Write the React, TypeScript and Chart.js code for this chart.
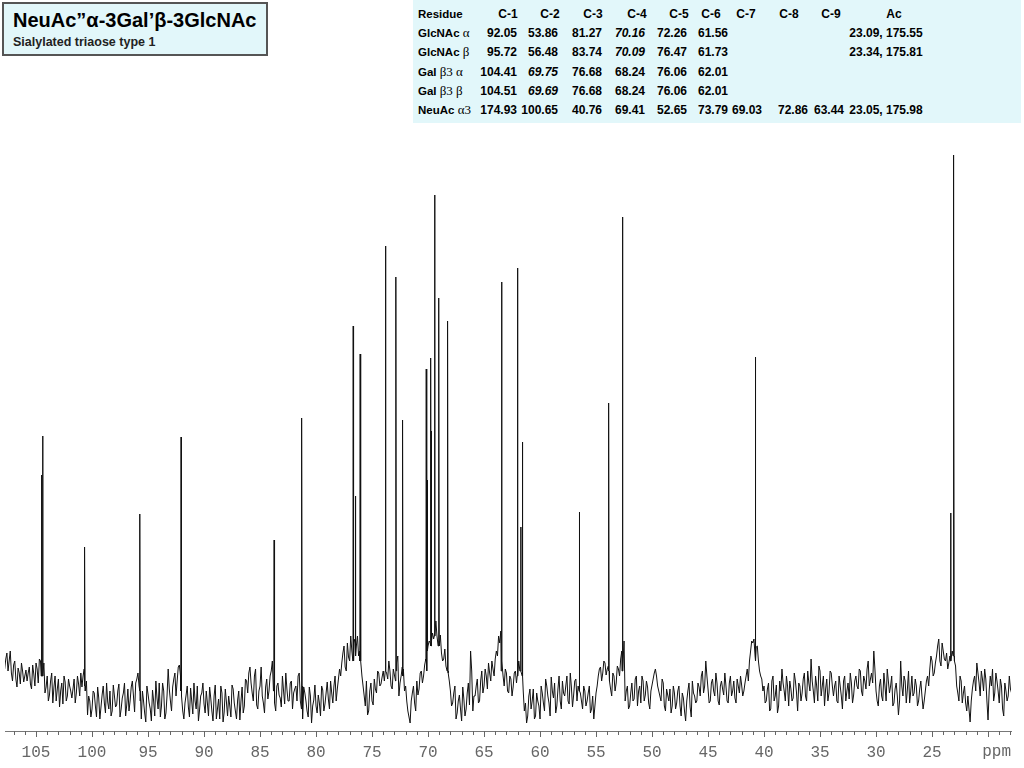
import React, { useEffect, useRef } from "react";
import { Chart, registerables } from "chart.js";

Chart.register(...registerables);

// ---------- data ----------
const X_MIN = 17.95;
const X_MAX = 107.77;
const MAJOR_TICKS = [105, 100, 95, 90, 85, 80, 75, 70, 65, 60, 55, 50, 45, 40, 35, 30, 25];
const MINOR_TICK_FIRST = 18;
const MINOR_TICK_LAST = 107;
const UNIT_LABEL = "ppm";

// baseline/noise trace: heights at 107.8, 107.6, ... (step 0.2)
const TRACE_START = 107.8;
const TRACE_STEP = 0.2;
const traceHeights = [
  62, 78, 70, 58, 66, 52, 63, 47, 60, 55,
  50, 64, 42, 57, 68, 48, 70, 60, 38, 55,
  36, 58, 44, 30, 52, 40, 27, 49, 35, 45,
  33, 52, 38, 47, 58, 55, 40, 16, 30, 22,
  38, 14, 33, 24, 45, 18, 29, 40, 20, 35,
  26, 47, 22, 38, 15, 42, 30, 50, 19, 52,
  45, 12, 30, 9, 37, 22, 41, 15, 33, 48,
  25, 40, 18, 62, 30, 44, 58, 50, 66, 35,
  12, 36, 24, 43, 17, 30, 45, 21, 38, 27,
  40, 15, 33, 10, 46, 22, 12, 38, 19, 29,
  35, 14, 42, 20, 31, 11, 44, 25, 50, 58,
  48, 30, 62, 22, 45, 35, 18, 52, 40, 60,
  40, 20, 48, 33, 55, 27, 42, 30, 50, 38,
  45, 55, 30, 12, 38, 20, 44, 8, 31, 25,
  36, 15, 41, 27, 49, 22, 38, 45, 30, 52,
  55, 78, 64, 88, 70, 80, 92, 85, 75, 70,
  45, 25, 16, 40, 30, 52, 38, 58, 47, 60,
  65, 52, 60, 42, 56, 68, 35, 55, 62, 45,
  20, 8, 38, 28, 50, 42, 60, 55, 72, 85,
  88, 98, 105, 95, 90, 78, 72, 65, 58, 40,
  28, 45, 18, 36, 10, 32, 22, 48, 80, 20,
  35, 52, 30, 60, 45, 55, 68, 50, 62, 72,
  75, 88, 70, 45, 58, 38, 52, 44, 60, 65,
  60, 55, 20, 8, 35, 22, 42, 15, 30, 12,
  38, 20, 45, 28, 54, 33, 18, 42, 30, 50,
  35, 55, 27, 44, 36, 52, 45, 38, 22, 40,
  30, 45, 22, 12, 38, 55, 64, 58, 68, 62,
  50, 35, 55, 48, 62, 72, 60, 30, 45, 25,
  48, 32, 55, 40, 28, 50, 36, 44, 22, 46,
  58, 55, 40, 30, 48, 20, 36, 42, 25, 38,
  28, 45, 15, 33, 10, 40, 24, 50, 35, 30,
  44, 55, 38, 70, 42, 30, 52, 35, 48, 26,
  50, 36, 45, 28, 55, 40, 33, 52, 38, 46,
  40, 55, 50, 80, 88, 75, 85, 60, 52, 45,
  30, 48, 22, 55, 35, 18, 50, 62, 40, 55,
  25, 42, 33, 50, 20, 45, 38, 58, 30, 48,
  72, 40, 55, 30, 60, 45, 25, 52, 38, 58,
  35, 50, 28, 45, 22, 55, 40, 32, 48, 36,
  55, 42, 60, 35, 50, 62, 45, 58, 80, 40,
  25, 52, 30, 45, 62, 38, 55, 28, 48, 16,
  70, 35, 50, 42, 28, 55, 38, 45, 30, 50,
  22, 40, 55, 62, 70, 58, 75, 92, 65, 80,
  70, 62, 75, 80, 70, 45, 30, 50, 38, 28,
  35, 9, 42, 55, 68, 48, 60, 40, 52, 11,
  55, 62, 38, 50, 28, 45, 15, 40, 35, 42,
];
// in-between readings at 107.7, 107.5, ... (step 0.2)
const traceHeightsMid = [
  72, 60, 80, 50, 70, 44, 58, 68, 49, 61,
  58, 47, 66, 45, 62, 72, 55, 68, 44, 30,
  50, 28, 55, 42, 24, 48, 55, 30, 52, 40,
  42, 28, 55, 35, 44, 62, 50, 35, 14, 40,
  25, 44, 12, 36, 28, 48, 22, 15, 46, 24,
  40, 14, 33, 48, 26, 20, 44, 35, 48, 58,
  30, 40, 18, 45, 28, 10, 30, 50, 22, 14,
  48, 12, 36, 42, 20, 52, 35, 64, 55, 20,
  28, 45, 14, 30, 48, 22, 10, 35, 48, 18,
  28, 44, 20, 35, 12, 32, 45, 9, 42, 15,
  25, 46, 28, 12, 40, 30, 18, 52, 38, 64,
  38, 55, 26, 40, 64, 28, 44, 32, 55, 70,
  28, 45, 36, 24, 40, 58, 30, 48, 22, 42,
  30, 58, 22, 44, 30, 14, 35, 25, 46, 18,
  28, 45, 20, 38, 32, 50, 28, 55, 42, 62,
  68, 85, 60, 74, 95, 72, 88, 95, 80, 55,
  35, 50, 20, 48, 26, 42, 60, 45, 54, 50,
  58, 70, 45, 62, 50, 75, 48, 64, 40, 30,
  14, 30, 45, 20, 36, 58, 48, 66, 60, 90,
  100, 92, 110, 85, 96, 70, 82, 60, 50, 25,
  38, 12, 30, 22, 44, 15, 38, 26, 60, 35,
  45, 28, 50, 38, 62, 42, 58, 70, 55, 80,
  95, 100, 55, 62, 40, 55, 35, 58, 48, 70,
  62, 40, 28, 15, 42, 30, 12, 38, 25, 45,
  28, 52, 35, 15, 40, 48, 25, 55, 22, 38,
  45, 30, 58, 24, 50, 30, 40, 30, 45, 25,
  38, 18, 35, 25, 45, 62, 50, 70, 56, 65,
  42, 58, 40, 65, 55, 80, 90, 40, 22, 38,
  30, 52, 25, 45, 55, 30, 50, 28, 40, 52,
  62, 45, 35, 52, 25, 42, 30, 18, 45, 22,
  40, 25, 38, 20, 30, 48, 14, 38, 28, 48,
  35, 60, 45, 55, 28, 48, 40, 58, 30, 45,
  42, 58, 30, 48, 35, 50, 28, 45, 55, 35,
  48, 62, 70, 90, 92, 84, 70, 55, 40, 28,
  42, 20, 50, 30, 46, 25, 40, 48, 30, 45,
  50, 30, 58, 38, 48, 30, 52, 35, 60, 40,
  50, 28, 45, 65, 35, 55, 42, 30, 60, 45,
  45, 30, 55, 35, 50, 30, 48, 58, 28, 50,
  45, 62, 40, 55, 42, 70, 52, 48, 62, 30,
  45, 35, 58, 30, 50, 45, 25, 42, 35, 30,
  45, 55, 28, 60, 40, 35, 52, 25, 42, 35,
  30, 50, 45, 75, 55, 68, 85, 70, 88, 72,
  78, 68, 72, 85, 65, 38, 55, 28, 45, 20,
  22, 30, 50, 40, 58, 35, 52, 62, 30, 40,
  45, 30, 58, 40, 52, 22, 48, 30, 55, 38,
];

const peakPpm = [
  104.51, 104.41, 100.65, 95.72, 92.05, 83.74, 81.27, 76.68, 76.47, 76.06,
  73.79, 72.86, 72.26, 70.16, 70.09, 69.75, 69.69, 69.41, 69.03, 68.24,
  63.44, 62.01, 61.73, 61.56, 56.48, 53.86, 52.65, 40.76, 23.34, 23.09, 23.05,
];
const peakHeight = [
  256, 295, 184, 217, 294, 191, 313, 405, 235, 377,
  485, 454, 311, 362, 251, 373, 300, 536, 433, 410,
  449, 463, 204, 289, 219, 328, 514, 374, 218, 576, 480,
];
const peakBase = [
  55, 55, 45, 40, 40, 45, 45, 70, 75, 70,
  60, 60, 55, 70, 80, 85, 90, 95, 85, 60,
  60, 55, 60, 55, 40, 60, 60, 70, 70, 75, 75,
];

const TITLE = "NeuAc\u201D\u03B1-3Gal\u2019\u03B2-3GlcNAc";
const SUBTITLE = "Sialylated triaose type 1";

const TABLE_HEADER_FIRST = "Residue";
const TABLE_COLUMNS = ["C-1", "C-2", "C-3", "C-4", "C-5", "C-6", "C-7", "C-8", "C-9", "Ac"];
const RESIDUE_NAMES = ["GlcNAc", "GlcNAc", "Gal", "Gal", "NeuAc"];
const RESIDUE_SUFFIXES = ["\u03B1", "\u03B2", "\u03B23 \u03B1", "\u03B23 \u03B2", "\u03B13"];
const ROW_GLCNAC_A = ["92.05", "53.86", "81.27", "70.16", "72.26", "61.56", "", "", "", "23.09, 175.55"];
const ROW_GLCNAC_B = ["95.72", "56.48", "83.74", "70.09", "76.47", "61.73", "", "", "", "23.34, 175.81"];
const ROW_GAL_A = ["104.41", "69.75", "76.68", "68.24", "76.06", "62.01", "", "", "", ""];
const ROW_GAL_B = ["104.51", "69.69", "76.68", "68.24", "76.06", "62.01", "", "", "", ""];
const ROW_NEUAC = ["174.93", "100.65", "40.76", "69.41", "52.65", "73.79", "69.03", "72.86", "63.44", "23.05, 175.98"];
const TABLE_ROWS = [ROW_GLCNAC_A, ROW_GLCNAC_B, ROW_GAL_A, ROW_GAL_B, ROW_NEUAC];
const ITALIC_CELLS = ["0-3", "1-3", "2-1", "3-1"];

// ---------- layout (not data) ----------
const PEAK_HALF_WIDTH = 0.03;
const TABLE_LEFT = 413;
const HEADER_CENTERS = [508, 550, 593, 637, 679, 711, 746, 789, 831, 894];
const VALUE_RIGHTS = [517, 558, 602, 645, 687, 728, 762, 808, 844];
const AC_CENTER = 886;
const ROW_Y0 = 14;
const ROW_PITCH = 19.2;

const axisPlugin = {
  id: "nmrAxis",
  afterDraw(chart: any) {
    const xs = chart.scales.x;
    const ctx = chart.ctx;
    const y0 = chart.chartArea.bottom;
    ctx.save();
    ctx.strokeStyle = "#666";
    ctx.lineWidth = 1;
    xs.ticks.forEach((t: any) => {
      const px = Math.round(xs.getPixelForValue(t.value)) + 0.5;
      const len = t.value % 5 === 0 ? 6 : 4;
      ctx.beginPath();
      ctx.moveTo(px, y0);
      ctx.lineTo(px, y0 + len);
      ctx.stroke();
    });
    ctx.fillStyle = "#666";
    ctx.font = '16px "Liberation Mono"';
    ctx.textAlign = "right";
    ctx.textBaseline = "middle";
    ctx.fillText(UNIT_LABEL, chart.chartArea.right, y0 + 21);
    ctx.restore();
  },
};

function buildPoints() {
  const pts: { x: number; y: number }[] = [];
  traceHeights.forEach((h, i) => {
    pts.push({ x: +(TRACE_START - i * TRACE_STEP).toFixed(3), y: h });
  });
  traceHeightsMid.forEach((h, i) => {
    pts.push({ x: +(TRACE_START - TRACE_STEP / 2 - i * TRACE_STEP).toFixed(3), y: h });
  });
  peakPpm.forEach((p, i) => {
    pts.push({ x: p + PEAK_HALF_WIDTH, y: peakBase[i] });
    pts.push({ x: p, y: peakHeight[i] });
    pts.push({ x: p - PEAK_HALF_WIDTH, y: peakBase[i] });
  });
  pts.sort((a, b) => b.x - a.x);
  return pts;
}

function Spectrum() {
  const ref = useRef<HTMLCanvasElement | null>(null);
  useEffect(() => {
    if (!ref.current) return;
    const tickValues: number[] = [];
    for (let v = MINOR_TICK_FIRST; v <= MINOR_TICK_LAST; v++) tickValues.push(v);
    const chart = new Chart(ref.current, {
      type: "line",
      data: {
        datasets: [
          {
            data: buildPoints(),
            borderColor: "#111",
            borderWidth: 1,
            pointRadius: 0,
            tension: 0,
            fill: false,
          },
        ],
      },
      options: {
        animation: false,
        responsive: false,
        events: [],
        layout: { padding: { left: 5, right: 13, top: 0, bottom: 0 } },
        plugins: { legend: { display: false }, tooltip: { enabled: false } },
        scales: {
          x: {
            type: "linear",
            reverse: true,
            min: X_MIN,
            max: X_MAX,
            afterBuildTicks: (s: any) => {
              s.ticks = tickValues.map((v) => ({ value: v }));
            },
            afterFit: (s: any) => {
              s.height = 37;
            },
            grid: { display: false, drawTicks: false },
            border: { display: true, color: "#777", width: 1 },
            ticks: {
              autoSkip: false,
              maxRotation: 0,
              padding: 12,
              color: "#666",
              font: { family: "Liberation Mono", size: 16 },
              callback: (v: any) => (MAJOR_TICKS.includes(Number(v)) ? String(v) : ""),
            },
          },
          y: { display: false, min: 0, max: 731 },
        },
      },
      plugins: [axisPlugin],
    });
    return () => chart.destroy();
  }, []);
  return <canvas ref={ref} width={1024} height={768} style={{ position: "absolute", left: 0, top: 0 }} />;
}

const cellFont: React.CSSProperties = {
  fontFamily: '"Liberation Sans", Arial, sans-serif',
  fontWeight: "bold",
  fontSize: 12,
  lineHeight: "14px",
  color: "#000",
  position: "absolute",
  whiteSpace: "nowrap",
};

function Table() {
  const items: React.ReactNode[] = [];
  items.push(
    <div key="h0" style={{ ...cellFont, fontSize: 11.5, left: 418 - TABLE_LEFT, top: ROW_Y0 - 7 }}>{TABLE_HEADER_FIRST}</div>
  );
  TABLE_COLUMNS.forEach((c, j) => {
    items.push(
      <div key={"h" + c} style={{ ...cellFont, left: HEADER_CENTERS[j] - TABLE_LEFT - 40, width: 80, textAlign: "center", top: ROW_Y0 - 7 }}>{c}</div>
    );
  });
  TABLE_ROWS.forEach((row, r) => {
    const cy = ROW_Y0 + ROW_PITCH * (r + 1);
    items.push(
      <div key={"r" + r} style={{ ...cellFont, fontSize: 11.5, left: 418 - TABLE_LEFT, top: cy - 7 }}>
        {RESIDUE_NAMES[r]}{" "}
        <span style={{ fontFamily: '"Liberation Serif", "DejaVu Serif", serif', fontWeight: "normal", fontSize: 13 }}>{RESIDUE_SUFFIXES[r]}</span>
      </div>
    );
    row.forEach((val, j) => {
      if (!val) return;
      const italic = ITALIC_CELLS.includes(r + "-" + j);
      if (j === 9) {
        items.push(
          <div key={"c" + r + "-" + j} style={{ ...cellFont, left: AC_CENTER - TABLE_LEFT - 60, width: 120, textAlign: "center", top: cy - 7 }}>{val}</div>
        );
      } else {
        items.push(
          <div key={"c" + r + "-" + j} style={{ ...cellFont, left: VALUE_RIGHTS[j] - TABLE_LEFT - 60, width: 60, textAlign: "right", top: cy - 7, fontStyle: italic ? "italic" : "normal" }}>{val}</div>
        );
      }
    });
  });
  return (
    <div style={{ position: "absolute", left: TABLE_LEFT, top: 0, width: 608, height: 123, background: "#e2f7fa" }}>
      {items}
    </div>
  );
}

function TitleBox() {
  return (
    <div
      style={{
        position: "absolute",
        left: 2,
        top: 2,
        width: 266,
        height: 54,
        boxSizing: "border-box",
        border: "2px solid #555",
        background: "#e2f7fa",
        fontFamily: '"Liberation Sans", Arial, sans-serif',
        fontWeight: "bold",
      }}
    >
      <div style={{ position: "absolute", left: 9, top: 5, fontSize: 20, lineHeight: "22px", color: "#000", whiteSpace: "nowrap" }}>{TITLE}</div>
      <div style={{ position: "absolute", left: 9, top: 31, fontSize: 12.5, lineHeight: "14px", color: "#222", whiteSpace: "nowrap" }}>{SUBTITLE}</div>
    </div>
  );
}

export default function App() {
  return (
    <div style={{ position: "fixed", left: 0, top: 0, width: 1024, height: 768, background: "#fff", overflow: "hidden" }}>
      <Spectrum />
      <TitleBox />
      <Table />
    </div>
  );
}
